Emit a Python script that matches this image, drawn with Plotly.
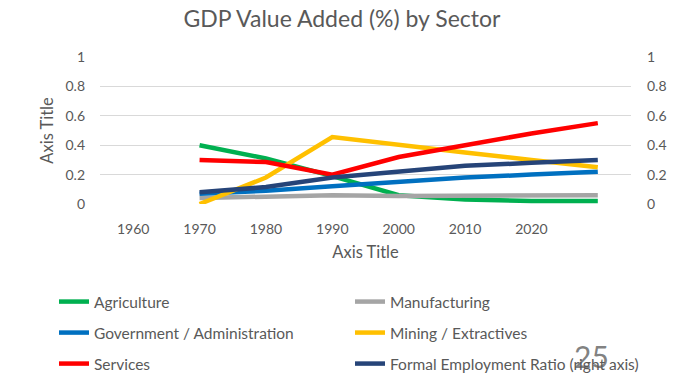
import plotly.graph_objects as go

years = [1970, 1980, 1990, 2000, 2010, 2020, 2030]
tick_years = [1960, 1970, 1980, 1990, 2000, 2010, 2020]
tick_labels = ["1960", "1970", "1980", "1990", "2000", "2010", "2020"]

agriculture = [0.40, 0.31, 0.19, 0.06, 0.03, 0.02, 0.02]
manufacturing = [0.04, 0.05, 0.06, 0.055, 0.055, 0.06, 0.06]
government = [0.07, 0.09, 0.12, 0.15, 0.18, 0.20, 0.22]
mining = [0.0, 0.18, 0.455, 0.40, 0.35, 0.30, 0.25]
services = [0.30, 0.285, 0.20, 0.32, 0.40, 0.48, 0.55]
formal_employment = [0.08, 0.115, 0.18, 0.22, 0.26, 0.28, 0.30]

y_ticks = [0, 0.2, 0.4, 0.6, 0.8, 1]
y_labels = ["0", "0.2", "0.4", "0.6", "0.8", "1"]

FONT = "Lato"
GREY = "#595959"

# (name, values, colour, axis, legend column x px, legend row y px)
series = [
    ("Agriculture", agriculture, "#00B050", "y", 54, 302),
    ("Manufacturing", manufacturing, "#A5A5A5", "y", 350, 302),
    ("Government / Administration", government, "#0070C0", "y", 54, 333),
    ("Mining / Extractives", mining, "#FFC000", "y", 350, 333),
    ("Services", services, "#FF0000", "y", 54, 364),
    ("Formal Employment Ratio (right axis)", formal_employment, "#264478", "y2", 350, 364),
]

fig = go.Figure()
legends = {}
for i, (name, vals, col, ax, lx, ly) in enumerate(series):
    key = "legend" if i == 0 else f"legend{i + 1}"
    fig.add_trace(go.Scatter(x=years, y=vals, name=name, mode="lines",
                             line=dict(color=col, width=4.5), yaxis=ax, legend=key))
    legends[key] = dict(orientation="h", xanchor="left", yanchor="middle",
                        xref="container", yref="container",
                        x=lx / 684, y=1 - ly / 374,
                        font=dict(family=FONT, size=15.5, color=GREY),
                        bgcolor="rgba(0,0,0,0)")

fig.update_layout(
    width=684, height=374,
    margin=dict(l=100, r=53, t=57, b=170),
    paper_bgcolor="white", plot_bgcolor="white",
    font=dict(family=FONT, color=GREY, size=14),
    title=dict(text="GDP Value Added (%) by Sector", x=0.5, xanchor="center",
               y=1 - 19 / 374, yanchor="middle", yref="container",
               font=dict(family=FONT, size=23, color=GREY)),
    xaxis=dict(range=[1955, 2035], tickvals=tick_years, ticktext=tick_labels,
               showgrid=False, zeroline=False, showline=False, ticks="",
               ticklabelstandoff=15,
               title=dict(text="Axis Title", font=dict(family=FONT, size=16.5, color=GREY), standoff=10),
               tickfont=dict(family=FONT, size=14, color=GREY)),
    yaxis=dict(range=[0, 1], tickvals=y_ticks, ticktext=y_labels,
               showgrid=True, gridcolor="#D9D9D9", gridwidth=1.3, zeroline=False,
               showline=False, ticks="", ticklabelstandoff=14,
               title=dict(text="Axis Title", font=dict(family=FONT, size=16.5, color=GREY), standoff=7),
               tickfont=dict(family=FONT, size=14, color=GREY)),
    yaxis2=dict(range=[0, 1], tickvals=y_ticks, ticktext=y_labels, overlaying="y",
                side="right", showgrid=False, zeroline=False, showline=False,
                ticks="", ticklabelstandoff=15,
                tickfont=dict(family=FONT, size=14, color=GREY)),
    showlegend=True,
    **legends,
)

fig.add_annotation(text="25", xref="paper", yref="paper", x=(591 - 100) / 531,
                   y=(204 - 356) / 147, xanchor="center", yanchor="middle", showarrow=False,
                   font=dict(family=FONT, size=30, color="rgba(89,89,89,0.75)"))

fig.write_html("out.html")
